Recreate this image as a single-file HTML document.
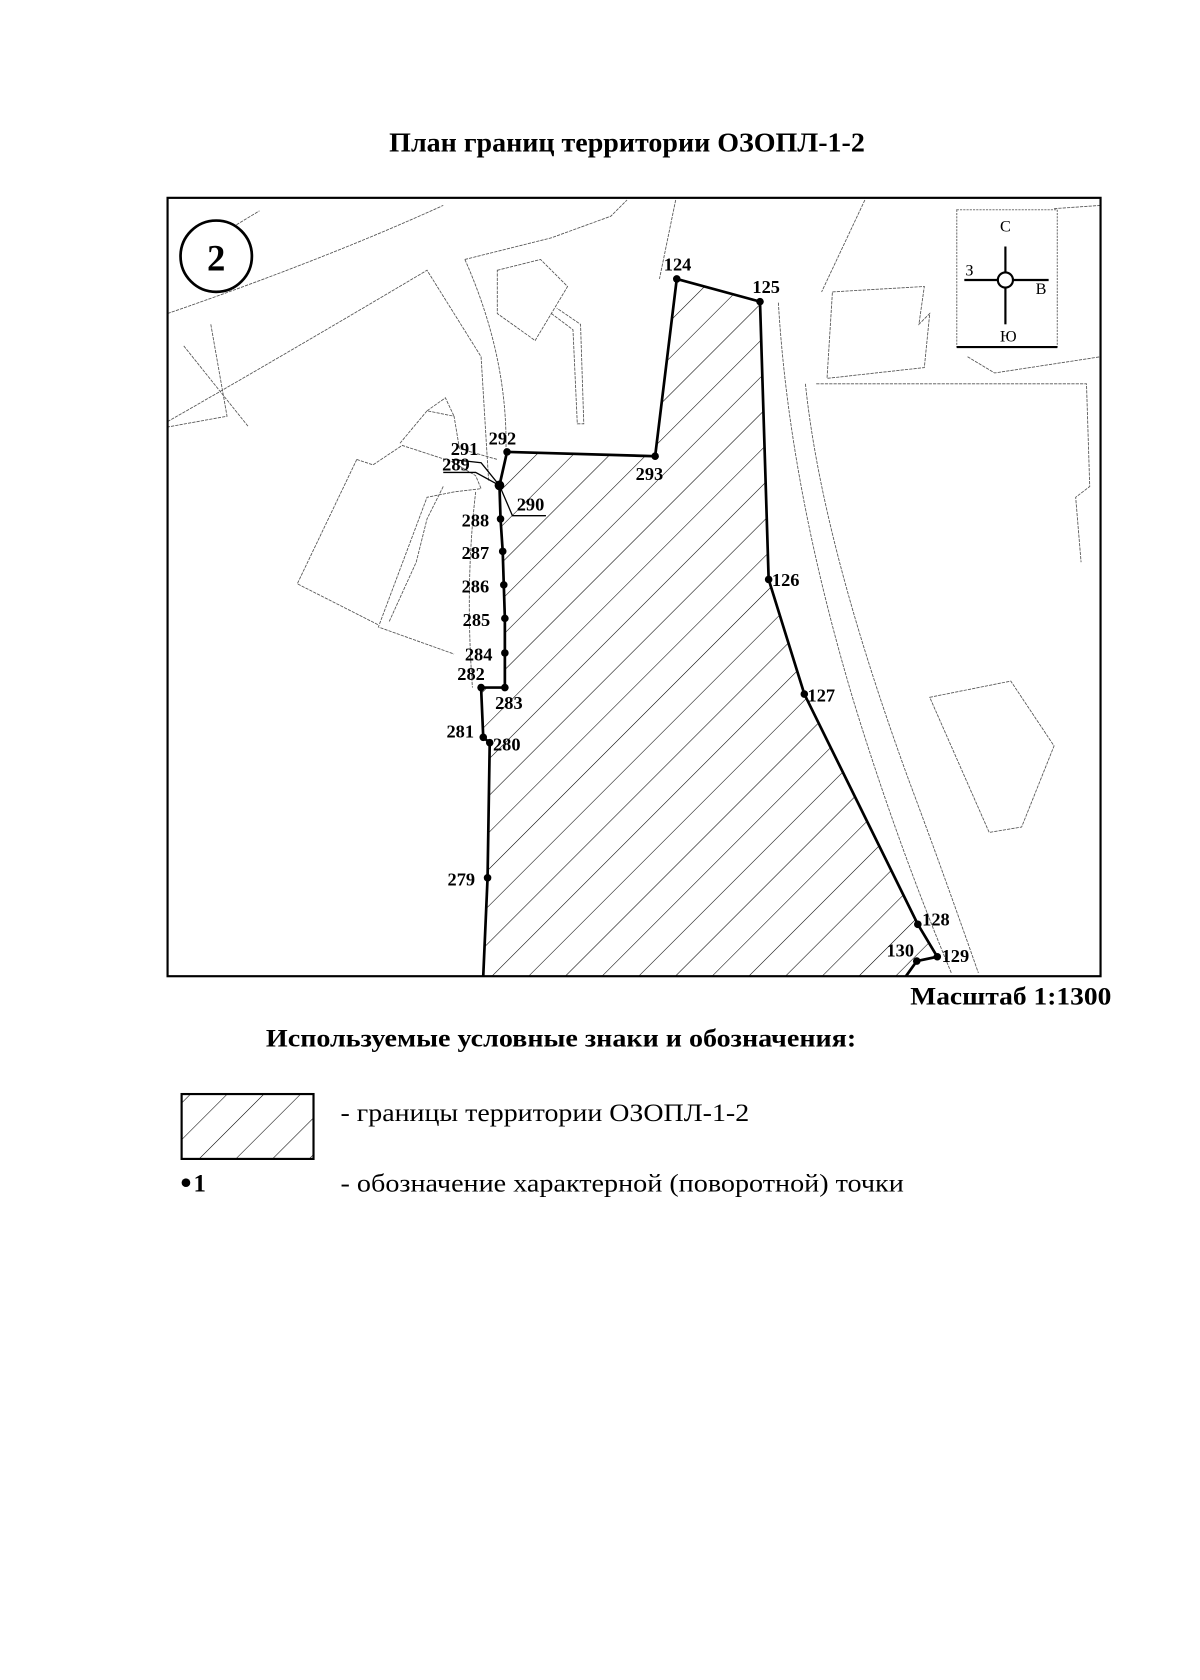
<!DOCTYPE html>
<html><head><meta charset="utf-8"><style>
html,body{margin:0;padding:0;background:#fff;}
svg{display:block;}
text{font-family:"Liberation Serif",serif;fill:#000;}
</style></head><body>
<svg width="1200" height="1680" viewBox="0 0 1110 1554" preserveAspectRatio="none" xmlns="http://www.w3.org/2000/svg">
<defs>
<pattern id="h" patternUnits="userSpaceOnUse" width="24" height="24" patternTransform="rotate(45)">
<line x1="0" y1="0" x2="0" y2="24" stroke="#000" stroke-width="1"/>
</pattern>
<clipPath id="mc"><rect x="155" y="183" width="863" height="720"/></clipPath>
</defs>
<text x="580" y="140" font-size="25" font-weight="bold" text-anchor="middle" textLength="440" lengthAdjust="spacingAndGlyphs">План границ территории ОЗОПЛ-1-2</text>

<g clip-path="url(#mc)">
<polygon points="626,258 703,279 711,536 744,642 849,855 867,885 848,889 838,903 447,903 451,812 453,687 447,682 445,636 467,636 467,604 467,572 466,541 465,510 463,480 462,449 469,418 606,422" fill="url(#h)"/>
<g fill="none" stroke="#555" stroke-width="0.8" stroke-dasharray="3,1">
<path d="M155,290 Q300,240 410,190"/>
<path d="M155,390 Q260,330 395,250 L445,330 L452,445"/>
<path d="M195,300 L210,385 L155,395"/>
<path d="M170,320 L230,395"/>
<path d="M200,210 L212,212 L240,195"/>
<path d="M430,240 L510,220 L565,200 L580,185"/>
<path d="M430,240 Q470,330 468,418"/>
<path d="M460,250 L500,240 L525,265 L495,315 L460,290 Z"/>
<path d="M510,290 L530,305 L534,392 L540,392 L537,300 L515,285"/>
<path d="M625,185 L610,258"/>
<path d="M370,410 L395,380 L420,385 L425,415 L460,425"/>
<path d="M395,380 L412,368 L420,385"/>
<path d="M330,425 L345,430 L372,412 L418,427 L440,440 L445,452 L420,455 L395,460 L350,580 L420,605"/>
<path d="M330,425 L275,540 L350,578"/>
<path d="M410,450 L395,480 L385,520 L360,575"/>
<path d="M440,455 Q430,540 437,636"/>
<path d="M720,280 Q730,450 790,650 Q830,780 880,900"/>
<path d="M745,355 Q760,500 840,720 Q870,800 905,900"/>
<path d="M770,270 L855,265 L850,300 L860,290 L855,340 L765,350 Z"/>
<path d="M755,355 L1005,355 L1008,450 L995,460 L1000,520"/>
<path d="M800,185 L760,270"/>
<path d="M860,645 L935,630 L975,690 L945,765 L915,770 Z"/>
<path d="M895,330 L920,345 L1018,330"/>
<path d="M975,193 L1018,190"/>
</g>
<polyline points="469,418 606,422 626,258 703,279 711,536 744,642 849,855 867,885 848,889 838,903" fill="none" stroke="#000" stroke-width="2.5"/>
<polyline points="469,418 462,449 463,480 465,510 466,541 467,572 467,604 467,636 445,636 447,682 453,687 451,812 447,903" fill="none" stroke="#000" stroke-width="2.5"/>
<g stroke="#000" stroke-width="1.2" fill="none">
<polyline points="418,425 445,428 462,449"/>
<polyline points="410,437 440,437 462,449"/>
<polyline points="462,449 474,477 505,477"/>
</g>
<g fill="#000">
<circle cx="626" cy="258" r="3.5"/><circle cx="703" cy="279" r="3.5"/><circle cx="711" cy="536" r="3.5"/><circle cx="744" cy="642" r="3.5"/><circle cx="849" cy="855" r="3.5"/><circle cx="867" cy="885" r="3.5"/><circle cx="848" cy="889" r="3.5"/><circle cx="606" cy="422" r="3.5"/><circle cx="469" cy="418" r="3.5"/><circle cx="462" cy="449" r="4.5"/><circle cx="463" cy="480" r="3.5"/><circle cx="465" cy="510" r="3.5"/><circle cx="466" cy="541" r="3.5"/><circle cx="467" cy="572" r="3.5"/><circle cx="467" cy="604" r="3.5"/><circle cx="467" cy="636" r="3.5"/><circle cx="445" cy="636" r="3.5"/><circle cx="447" cy="682" r="3.5"/><circle cx="453" cy="687" r="3.5"/><circle cx="451" cy="812" r="3.5"/>
</g>
<g font-size="17" font-weight="bold">
<text x="614" y="250">124</text><text x="696" y="271">125</text><text x="714" y="542">126</text><text x="747" y="649">127</text><text x="853" y="856">128</text><text x="871" y="890">129</text><text x="820" y="885">130</text>
<text x="588" y="444">293</text><text x="452" y="411">292</text><text x="417" y="421">291</text><text x="409" y="435">289</text><text x="478" y="472">290</text>
<text x="427" y="487">288</text><text x="427" y="517">287</text><text x="427" y="548">286</text><text x="428" y="579">285</text><text x="430" y="611">284</text><text x="423" y="629">282</text><text x="458" y="656">283</text><text x="413" y="682">281</text><text x="456" y="694">280</text><text x="414" y="819">279</text>
</g>
<circle cx="200" cy="237" r="33" fill="#fff" stroke="#000" stroke-width="2.5"/>
<text x="200" y="250" font-size="34" font-weight="bold" text-anchor="middle">2</text>
<rect x="885" y="194" width="93" height="127" fill="none" stroke="#777" stroke-width="1" stroke-dasharray="2,1"/>
<line x1="885" y1="321" x2="978" y2="321" stroke="#000" stroke-width="2"/>
<g stroke="#000" stroke-width="2" fill="none">
<line x1="892" y1="259" x2="923" y2="259"/><line x1="937" y1="259" x2="970" y2="259"/>
<line x1="930" y1="228" x2="930" y2="252"/><line x1="930" y1="266" x2="930" y2="300"/>
<circle cx="930" cy="259" r="7" fill="#fff"/>
</g>
<g font-size="15"><text x="925" y="214">С</text><text x="893" y="255">З</text><text x="958" y="272">В</text><text x="925" y="316">Ю</text></g>
</g>
<rect x="155" y="183" width="863" height="720" fill="none" stroke="#000" stroke-width="2"/>

<text x="1028" y="929" font-size="23" font-weight="bold" text-anchor="end" textLength="186" lengthAdjust="spacingAndGlyphs">Масштаб 1:1300</text>
<text x="519" y="968" font-size="23" font-weight="bold" text-anchor="middle" textLength="546" lengthAdjust="spacingAndGlyphs">Используемые условные знаки и обозначения:</text>
<rect x="168" y="1012" width="122" height="60" fill="url(#h)" stroke="#000" stroke-width="2"/>
<text x="315" y="1037" font-size="23" textLength="378" lengthAdjust="spacingAndGlyphs">- границы территории ОЗОПЛ-1-2</text>
<circle cx="172" cy="1094" r="4" fill="#000"/>
<text x="179" y="1102" font-size="23" font-weight="bold">1</text>
<text x="315" y="1102" font-size="23" textLength="521" lengthAdjust="spacingAndGlyphs">- обозначение характерной (поворотной) точки</text>
</svg>
</body></html>
